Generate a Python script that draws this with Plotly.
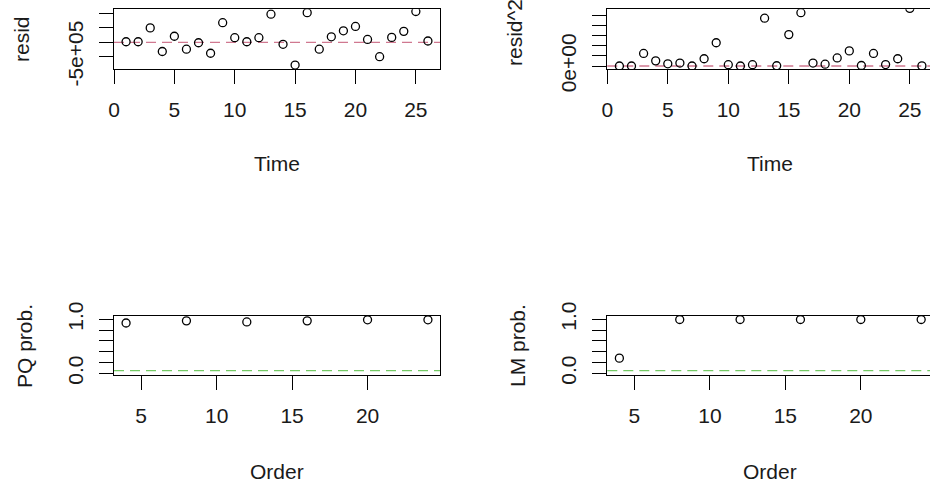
import plotly.graph_objects as go

# ---------------- data ----------------
time = list(range(1, 27))
resid = [2e4, 2e4, 5.0e5, -3.2e5, 2.1e5, -2.4e5, -1.5e4, -3.8e5, 6.8e5, 1.6e5,
         2e4, 1.6e5, 9.75e5, -7e4, -7.9e5, 1.03e6, -2.4e5, 1.9e5, 4.0e5, 5.5e5,
         1.0e5, -5.0e5, 1.7e5, 3.8e5, 1.07e6, 4.5e4]
resid_sq = [4e8, 4e8, 2.5e11, 1.02e11, 4.4e10, 5.8e10, 2e8, 1.44e11, 4.62e11, 2.6e10,
            4e8, 2.6e10, 9.5e11, 4.9e9, 6.24e11, 1.06e12, 5.8e10, 3.6e10, 1.6e11, 3.0e11,
            1.0e10, 2.5e11, 2.9e10, 1.44e11, 1.145e12, 2e9]
order = [4, 8, 12, 16, 20, 24]
pq_prob = [0.93, 0.97, 0.95, 0.97, 0.99, 0.99]
lm_prob = [0.28, 0.995, 0.995, 0.995, 0.995, 0.995]

resid_ticks = [-5e5, 0, 5e5, 1e6]
resid_ticktext = ["-5e+05", "", "", ""]
sq_ticks = [0, 2e11, 4e11, 6e11, 8e11, 1e12]
sq_ticktext = ["0e+00", "", "", "", "", ""]
prob_ticks = [0, 0.2, 0.4, 0.6, 0.8, 1.0]
prob_ticktext = ["0.0", "", "", "", "", "1.0"]
time_ticks = [0, 5, 10, 15, 20, 25]
order_ticks = [5, 10, 15, 20]

# ---------------- layout helpers ----------------
W, H = 930, 487
FONT = "Liberation Sans, Arial, sans-serif"
TXT = "#1a1a1a"


def dx(a, b):
    return [a / W, min(b / W, 1.0)]


def dy(top, bottom):
    return [1 - bottom / H, 1 - top / H]


def xax(domain, rng, ticks, anchor, mirror=True):
    return dict(domain=domain, range=rng, anchor=anchor, tickmode="array", tickvals=ticks,
                showline=True, mirror=mirror, linecolor="black", linewidth=1,
                ticks="outside", ticklen=14, tickwidth=1, tickcolor="black",
                showgrid=False, zeroline=False, automargin=False,
                tickfont=dict(size=21, color=TXT, family=FONT), ticklabelstandoff=8)


def yax(domain, rng, ticks, text, anchor, mirror=True):
    return dict(domain=domain, range=rng, anchor=anchor, tickmode="array", tickvals=ticks,
                ticktext=text, tickangle=-90,
                showline=True, mirror=mirror, linecolor="black", linewidth=1,
                ticks="outside", ticklen=14, tickwidth=1, tickcolor="black",
                showgrid=False, zeroline=False, automargin=False,
                tickfont=dict(size=21, color=TXT, family=FONT), ticklabelstandoff=8)


TOP = (9.3, 69)
BOT = (316, 375)
LEFT = (114, 440)
RIGHT = (607.3, 934)

mk = dict(symbol="circle-open", size=8, color="black", line=dict(width=1.3, color="black"))

fig = go.Figure()
fig.add_trace(go.Scatter(x=time, y=resid, mode="markers", marker=mk, xaxis="x", yaxis="y"))
fig.add_trace(go.Scatter(x=time, y=resid_sq, mode="markers", marker=mk, xaxis="x2", yaxis="y2"))
fig.add_trace(go.Scatter(x=order, y=pq_prob, mode="markers", marker=mk, xaxis="x3", yaxis="y3"))
fig.add_trace(go.Scatter(x=order, y=lm_prob, mode="markers", marker=mk, xaxis="x4", yaxis="y4"))

x_right_end = (930 - 607.3) / 12.1
x_right_end_b = 3.2 + (930 - 607.3) / 15.09

fig.update_layout(
    template="none",
    width=W, height=H, margin=dict(l=0, r=0, t=0, b=0, autoexpand=False),
    paper_bgcolor="white", plot_bgcolor="white", showlegend=False,
    xaxis=xax(dx(*LEFT), [0, 27], time_ticks, "y"),
    yaxis=yax(dy(*TOP), [-9.27e5, 1.146e6], resid_ticks, resid_ticktext, "x"),
    xaxis2=xax(dx(*RIGHT), [0, x_right_end], time_ticks, "y2"),
    yaxis2=yax(dy(*TOP), [-0.0596e12, 1.127e12], sq_ticks, sq_ticktext, "x2", mirror=False),
    xaxis3=xax(dx(*LEFT), [3.2, 24.8], order_ticks, "y3"),
    yaxis3=yax(dy(*BOT), [-0.032, 1.06], prob_ticks, prob_ticktext, "x3"),
    xaxis4=xax(dx(*RIGHT), [3.2, x_right_end_b], order_ticks, "y4"),
    yaxis4=yax(dy(*BOT), [-0.032, 1.06], prob_ticks, prob_ticktext, "x4", mirror=False),
)

# reference lines
shapes = []
for xr, yr, yv, col in [("x", "y", 0, "#D07890"), ("x2", "y2", 0, "#D07890"),
                        ("x3", "y3", 0.05, "#74C965"), ("x4", "y4", 0.05, "#74C965")]:
    shapes.append(dict(type="line", xref=f"{xr} domain", yref=yr, x0=0, x1=1, y0=yv, y1=yv,
                       line=dict(color=col, width=1.3, dash="10px,6px"), layer="below"))
fig.update_layout(shapes=shapes)

# axis titles
ann = []
def title(text, px, py, angle=0):
    ann.append(dict(text=text, x=px / W, y=1 - py / H, xref="paper", yref="paper",
                    showarrow=False, textangle=angle, xanchor="center", yanchor="middle",
                    font=dict(size=21, color=TXT, family=FONT)))

title("resid", 21, 39, -90)
title("resid^2", 514, 33, -90)
title("PQ prob.", 24, 346, -90)
title("LM prob.", 517, 346, -90)
title("Time", 277, 163)
title("Time", 770, 163)
title("Order", 277, 471)
title("Order", 770, 471)
fig.update_layout(annotations=ann)

fig.write_html("out.html")
